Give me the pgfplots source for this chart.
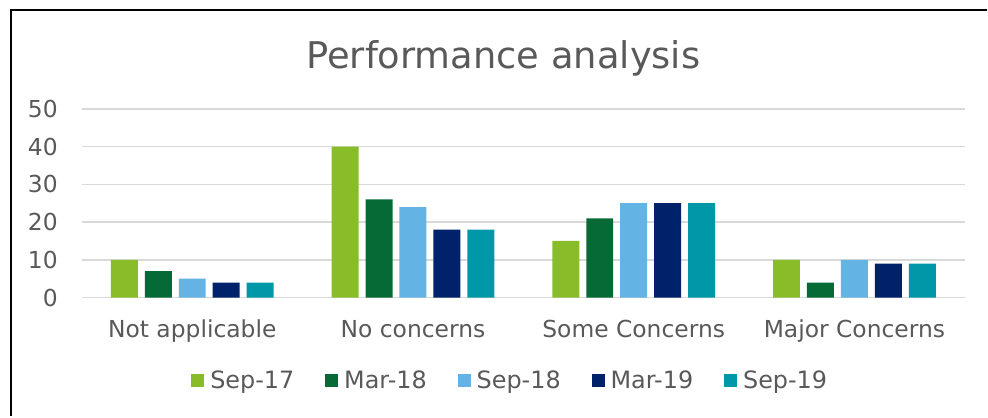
\documentclass[border=0pt]{standalone}
\usepackage{fontspec}
\setmainfont{DejaVu Sans}
\usepackage{pgfplots}
\pgfplotsset{compat=1.18}
\definecolor{sepa}{HTML}{89BC29}
\definecolor{marb}{HTML}{066A37}
\definecolor{sepc}{HTML}{63B4E4}
\definecolor{mard}{HTML}{00226A}
\definecolor{sepe}{HTML}{0098A9}
\definecolor{txt}{HTML}{595959}
\definecolor{gridc}{HTML}{D9D9D9}

% categories at 0..3: Not applicable, No concerns, Some Concerns, Major Concerns
\pgfplotstableread{
x v
0 10
1 40
2 15
3 10
}\sepA
\pgfplotstableread{
x v
0 7
1 26
2 21
3 4
}\marB
\pgfplotstableread{
x v
0 5
1 24
2 25
3 10
}\sepC
\pgfplotstableread{
x v
0 4
1 18
2 25
3 9
}\marD
\pgfplotstableread{
x v
0 4
1 18
2 25
3 9
}\sepE

\begin{document}
\begin{tikzpicture}
\path (0bp,0bp) rectangle (988bp,417bp);
\draw[line width=2.5bp, black] (11bp,0bp) -- (11bp,407bp) -- (988bp,407bp);
\node[text=txt, anchor=base, font=\fontsize{37}{44}\selectfont] at (504bp,348bp) {Performance analysis};
\begin{axis}[
    at={(82bp,119bp)}, anchor=south west,
    scale only axis, width=884bp, height=189bp,
    ybar=7bp, bar width=27bp,
    xmin=-0.5, xmax=3.5, ymin=0, ymax=50,
    xtick={0,1,2,3},
    xticklabels={Not applicable, No concerns, Some Concerns, Major Concerns},
    ytick={0,10,20,30,40,50},
    ymajorgrids,
    major grid style={line width=1.5bp, gridc},
    axis line style={draw=none},
    tick style={draw=none},
    /pgf/number format/assume math mode=true,
    ticklabel style={text=txt, font=\fontsize{23.5}{28}\selectfont},
    xticklabel style={anchor=north, inner sep=0pt, yshift=-18bp},
    yticklabel style={anchor=east, inner sep=0pt, xshift=-24bp},
    legend columns=5,
    legend style={at={(0.484,-0.439)}, anchor=center, draw=none, fill=none,
        font=\fontsize{24}{28}\selectfont, text=txt,
        nodes={inner sep=0pt},
        /tikz/every odd column/.append style={column sep=6bp},
        /tikz/every even column/.append style={column sep=31bp}},
    legend image code/.code={\fill[#1] (0bp,-6.5bp) rectangle (13bp,6.5bp);},
]
\addplot[fill=sepa, draw=none] table[x=x, y=v] {\sepA};
\addplot[fill=marb, draw=none] table[x=x, y=v] {\marB};
\addplot[fill=sepc, draw=none] table[x=x, y=v] {\sepC};
\addplot[fill=mard, draw=none] table[x=x, y=v] {\marD};
\addplot[fill=sepe, draw=none] table[x=x, y=v] {\sepE};
\legend{Sep-17, Mar-18, Sep-18, Mar-19, Sep-19}
\end{axis}
\end{tikzpicture}
\end{document}
